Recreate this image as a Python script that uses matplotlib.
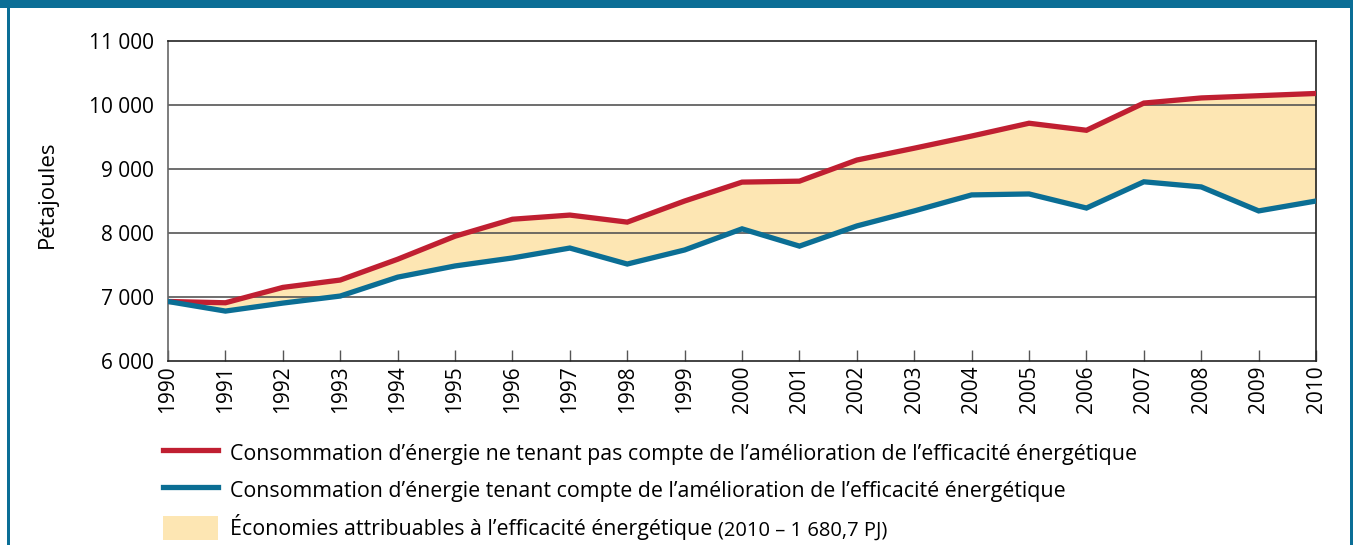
import matplotlib.pyplot as plt
from matplotlib.lines import Line2D
from matplotlib.patches import Patch, Rectangle

plt.rcParams['font.family'] = ['Open Sans', 'DejaVu Sans']

# -------------- Data --------------------------------------
years = list(range(1990, 2011))
sans_efficacite = [6930, 6910, 7150, 7265, 7590, 7950, 8215, 8280, 8170, 8500,
                   8795, 8810, 9140, 9325, 9515, 9715, 9605, 10030, 10110, 10145, 10180]
avec_efficacite = [6930, 6780, 6905, 7015, 7310, 7485, 7610, 7765, 7515, 7735,
                   8065, 7795, 8110, 8345, 8595, 8610, 8390, 8800, 8720, 8345, 8500]
y_ticks = [6000, 7000, 8000, 9000, 10000, 11000]
y_tick_labels = ['6 000', '7 000', '8 000', '9 000', '10 000', '11 000']

label_red = 'Consommation d\u2019énergie ne tenant pas compte de l\u2019amélioration de l\u2019efficacité énergétique'
label_blue = 'Consommation d\u2019énergie tenant compte de l\u2019amélioration de l\u2019efficacité énergétique'
label_fill = 'Économies attribuables à l\u2019efficacité énergétique'
label_fill_note = '(2010 \u2013 1 680,7 PJ)'

red = '#c01f31'
blue = '#0b6e94'
peach = '#fde6b3'
frame_blue = '#0b6e96'

fs = 15

fig = plt.figure(figsize=(13.53, 5.45), dpi=100)
ax = fig.add_axes([0.1242, 0.3376, 0.8485, 0.5872])

# fill between the two series, gridlines above it, lines on top
ax.fill_between(years, avec_efficacite, sans_efficacite, color=peach, lw=0, zorder=1)
for yv in y_ticks[1:-1]:
    ax.axhline(yv, color='#555555', lw=1.2, zorder=2)
ax.plot(years, sans_efficacite, color=red, lw=3.8, solid_joinstyle='miter', zorder=3)
ax.plot(years, avec_efficacite, color=blue, lw=3.8, solid_joinstyle='miter', zorder=3)

ax.set_xlim(1990, 2010)
ax.set_ylim(6000, 11000)
ax.set_xticks(years)
ax.set_xticklabels([str(y) for y in years], rotation=90, fontsize=fs)
ax.set_yticks(y_ticks)
ax.set_yticklabels(y_tick_labels, fontsize=fs)
ax.tick_params(axis='x', direction='in', length=8, width=1, color='#555555', pad=3)
ax.tick_params(axis='y', length=0, pad=10)

for side in ['top', 'right', 'bottom']:
    ax.spines[side].set_color('#222222')
    ax.spines[side].set_linewidth(1.2)
ax.spines['left'].set_color('#666666')
ax.spines['left'].set_linewidth(1.2)

ax.set_ylabel('Pétajoules', fontsize=16, va='center')
ax.yaxis.set_label_coords(-0.105, 0.52)

# legend below the chart
leg_fs = 15.4
handles = [Line2D([], [], color=red, lw=3.8),
           Line2D([], [], color=blue, lw=3.8),
           Patch(facecolor=peach, edgecolor='none')]
leg = fig.legend(handles, [label_red, label_blue, label_fill],
                 loc='upper left', bbox_to_anchor=(0.1205, 0.191),
                 frameon=False, fontsize=leg_fs, handlelength=2.57,
                 handleheight=1.31, handletextpad=0.56, labelspacing=0.6,
                 borderpad=0, borderaxespad=0)

fig.canvas.draw()
bb = leg.get_texts()[2].get_window_extent()
fig.text((bb.x1 + 6) / fig.bbox.width, bb.y0 / fig.bbox.height, label_fill_note,
         fontsize=14.5, va='bottom', ha='left')

# blue frame around the figure
fig.patches.append(Rectangle((0, 1 - 8 / 545), 1, 8 / 545, transform=fig.transFigure,
                             facecolor=frame_blue, edgecolor='none'))
fig.patches.append(Rectangle((7 / 1353, 0), 2.5 / 1353, 1, transform=fig.transFigure,
                             facecolor=frame_blue, edgecolor='none'))
fig.patches.append(Rectangle((1350 / 1353, 0), 3 / 1353, 1, transform=fig.transFigure,
                             facecolor=frame_blue, edgecolor='none'))

fig.savefig('out.png', dpi=100)
